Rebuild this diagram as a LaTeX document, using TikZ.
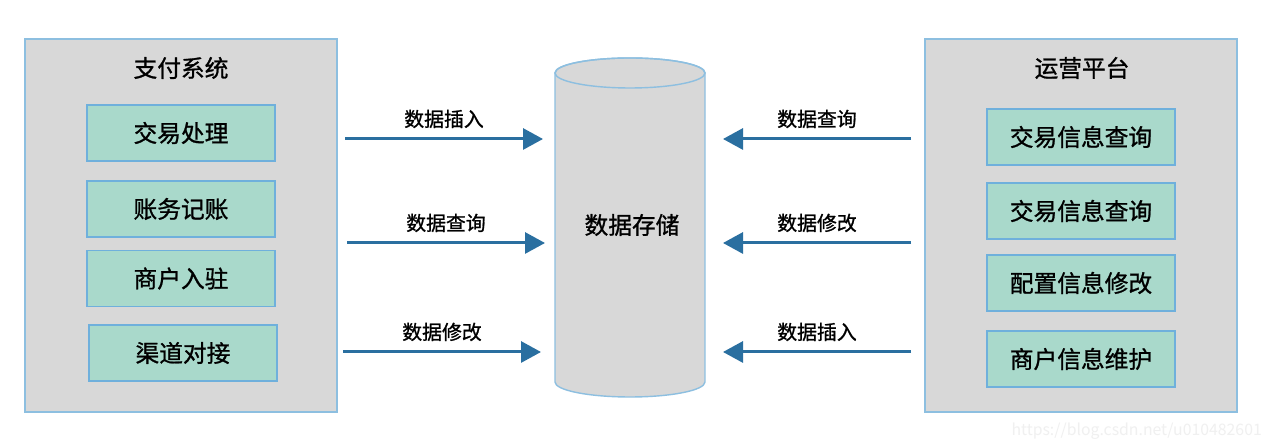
\documentclass[tikz,border=0pt]{standalone}
\usepackage{fontspec}
\newfontfamily\cjk[FakeBold=1.0]{Noto Sans CJK SC}
\newfontfamily\cjklight{Noto Sans CJK SC}
\usetikzlibrary{arrows.meta, positioning}
\definecolor{pgray}{HTML}{D8D8D8}
\definecolor{pedge}{HTML}{8DBFE0}
\definecolor{bmint}{HTML}{A9D9CB}
\definecolor{bedge}{HTML}{6FB0DC}
\definecolor{flowblue}{HTML}{2A6FA0}
\definecolor{wmark}{HTML}{F0F0F0}

\begin{document}
\begin{tikzpicture}[
    x=0.02cm, y=-0.02cm,
    panel/.style={
        draw=pedge, fill=pgray, line width=0.8pt,
        minimum width=6.24cm, minimum height=7.46cm
    },
    title/.style={font=\cjk\fontsize{13.5}{16}\selectfont},
    item/.style={
        draw=bedge, fill=bmint, line width=0.9pt,
        minimum width=3.76cm, minimum height=1.12cm,
        font=\cjk\fontsize{13.5}{16}\selectfont
    },
    flow/.style={draw=flowblue, line width=1.7pt,
        -{Triangle[length=0.4cm, width=0.42cm]}},
    lbl/.style={font=\cjk\fontsize{11.3}{14}\selectfont, above=2pt},
]
\useasboundingbox[fill=white] (0,0) rectangle (1276,448);

% ---- left panel: payment system ----
\node[panel] (pay) at (181,225.5) {};
\node[title] (paytitle) at (181,68) {支付系统};
\node[item] (trade)   at (181,133)   {交易处理};
\node[item] (account) at (181,209)   {账务记账};
\node[item] (merch)   at (181,278.5) {商户入驻};
\node[item] (channel) at (183,353)   {渠道对接};

% ---- right panel: operation platform ----
\node[panel] (ops) at (1081,225.5) {};
\node[title] (opstitle) at (1082,68) {运营平台};
\node[item] (query1) at (1081,137) {交易信息查询};
\node[item] (query2) at (1081,211) {交易信息查询};
\node[item] (config) at (1081,283) {配置信息修改};
\node[item] (minfo)  at (1081,359) {商户信息维护};

% ---- storage cylinder ----
\draw[draw=pedge, fill=pgray, line width=0.8pt]
    (555,73) -- (555,382)
    arc[start angle=180, end angle=360, x radius=1.5cm, y radius=0.3cm]
    -- (705,73)
    arc[start angle=0, end angle=180, x radius=1.5cm, y radius=0.3cm] -- cycle;
\draw[draw=pedge, line width=0.8pt] (630,73) ellipse[x radius=1.5cm, y radius=0.3cm];
\node[title] (db) at (632,225) {数据存储};

% ---- arrow end points ----
\coordinate (l1s) at (345,139); \coordinate (l1e) at (543,139);
\coordinate (l2s) at (347,243); \coordinate (l2e) at (545,243);
\coordinate (l3s) at (343,352); \coordinate (l3e) at (541,352);
\coordinate (r1s) at (911,139); \coordinate (r1e) at (723,139);
\coordinate (r2s) at (911,243); \coordinate (r2e) at (723,243);
\coordinate (r3s) at (911,352); \coordinate (r3e) at (723,352);

% ---- payment system -> storage ----
\draw[flow] (l1s) -- (l1e) node[midway, lbl] {数据插入};
\draw[flow] (l2s) -- (l2e) node[midway, lbl] {数据查询};
\draw[flow] (l3s) -- (l3e) node[midway, lbl] {数据修改};

% ---- operation platform -> storage ----
\draw[flow] (r1s) -- (r1e) node[midway, lbl] {数据查询};
\draw[flow] (r2s) -- (r2e) node[midway, lbl] {数据修改};
\draw[flow] (r3s) -- (r3e) node[midway, lbl] {数据插入};

\node[font=\cjklight\fontsize{9}{11}\selectfont, text=wmark, anchor=east] (wm) at (1268,431)
    {https://blog.csdn.net/u010482601};
\end{tikzpicture}
\end{document}
